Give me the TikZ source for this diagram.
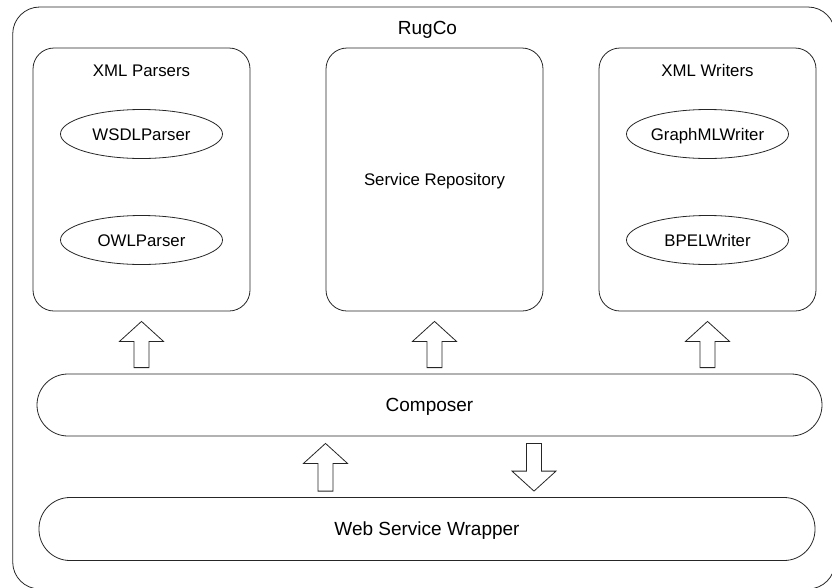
\documentclass[tikz,border=0pt]{standalone}
\usepackage{fontspec}
\setmainfont{Liberation Sans}
\usetikzlibrary{calc,shapes.geometric}

\tikzset{
  line/.style={draw=black!85, line width=0.8pt},
  small/.style={font=\fontsize{16.8}{20}\selectfont},
  large/.style={font=\fontsize{19}{22}\selectfont},
  frame/.style={line, rounded corners=27pt, inner sep=0pt},
  panel/.style={line, rounded corners=21pt, minimum width=217pt,
    minimum height=263pt, inner sep=0pt, small, text height=12pt, text depth=0pt},
  bar/.style={line, rounded corners=31pt, inner sep=0pt, large,
    text height=13.6pt, text depth=0pt},
  module/.style={line, ellipse, minimum width=162pt, minimum height=49pt,
    inner sep=0pt, small, text height=12pt, text depth=0pt},
  caption/.style={anchor=base, inner sep=0pt},
  blockarrow/.style={line, fill=white, line join=miter},
}

% hollow block arrow from tail #1 to tip #2 (vertical)
\newcommand\drawblockarrow[2]{%
  \draw[blockarrow] let \p1=(#1), \p2=(#2), \n1={(\y2>\y1) ? 1 : -1} in
    (\x1-7.5pt,\y1) -- (\x1-7.5pt,{\y2-\n1*20pt}) -- (\x1-22pt,{\y2-\n1*20pt})
    -- (\x1,\y2) -- (\x1+22pt,{\y2-\n1*20pt}) -- (\x1+7.5pt,{\y2-\n1*20pt})
    -- (\x1+7.5pt,\y1) -- cycle;}

\begin{document}
\begin{tikzpicture}[x=1pt, y=-1pt]
  \useasboundingbox (0,0) rectangle (832,587);

  % system boundary (runs past the right and bottom page edges)
  \node[frame, minimum width=822.3pt, minimum height=582pt] (rugco) at (423.85,298) {};
  \node[caption, large] (rugcolabel) at (427.5,34) {RugCo};

  % upper components
  \node[panel] (parsers) at (141.5,179.5) {};
  \node[caption, small] (parserslabel) at (141.5,76) {XML Parsers};
  \node[module] (wsdl) at (141.5,134) {WSDLParser};
  \node[module] (owl) at (141.5,240) {OWLParser};

  \node[panel] (repo) at (434.5,179.5) {Service Repository};

  \node[panel] (writers) at (707.5,179.5) {};
  \node[caption, small] (writerslabel) at (707.5,76) {XML Writers};
  \node[module] (graphml) at (707.5,134) {GraphMLWriter};
  \node[module] (bpel) at (707.5,240) {BPELWriter};

  % horizontal layers
  \node[bar, minimum width=785pt, minimum height=62pt] (composer) at (429.5,405) {Composer};
  \node[bar, minimum width=776pt, minimum height=63pt] (wrapper) at (427,529) {Web Service Wrapper};

  % composer uses the upper components
  \drawblockarrow{[yshift=6pt]parsers.south |- composer.north}{[yshift=-10pt]parsers.south}
  \drawblockarrow{[yshift=6pt]repo.south |- composer.north}{[yshift=-10pt]repo.south}
  \drawblockarrow{[yshift=6pt]writers.south |- composer.north}{[yshift=-10pt]writers.south}

  % wrapper <-> composer
  \coordinate (callx) at (325.5,0);
  \coordinate (retx) at (534,0);
  \drawblockarrow{[yshift=6pt]callx |- wrapper.north}{[yshift=-7pt]callx |- composer.south}
  \drawblockarrow{[yshift=-7pt]retx |- composer.south}{[yshift=6pt]retx |- wrapper.north}
\end{tikzpicture}
\end{document}
